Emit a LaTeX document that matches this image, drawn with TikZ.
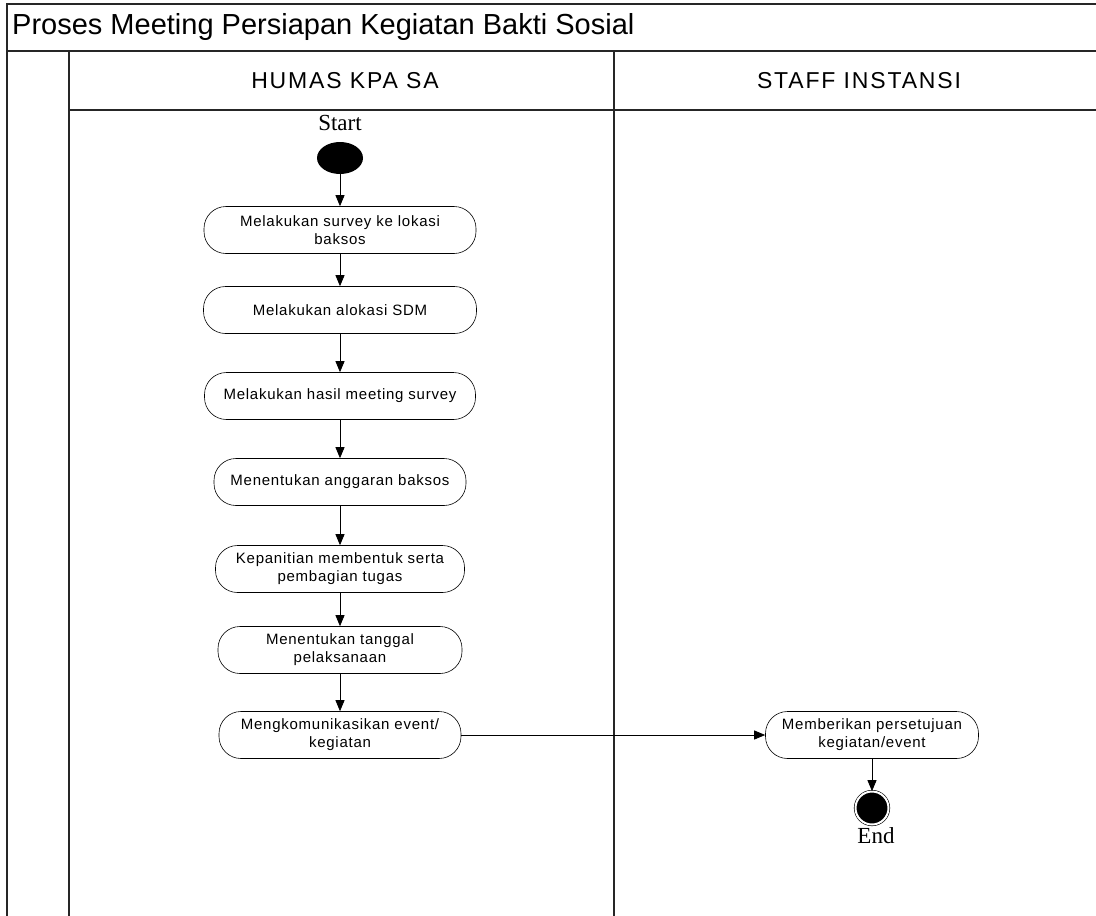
\documentclass[tikz,border=0pt]{standalone}
\usepackage{fontspec}
\usetikzlibrary{arrows.meta,shapes.geometric}
\setmainfont{Liberation Sans}
\newfontfamily\actfont[LetterSpace=5]{Liberation Sans}
\newfontfamily\lanefont[LetterSpace=8]{Liberation Sans}
\newfontfamily\markfont{Liberation Serif}

\begin{document}
\begin{tikzpicture}[x=1pt, y=-1pt,
  lane/.style={line width=1.2pt, draw=black!85},
  act/.style={draw, line width=0.6pt, rounded corners=22pt, minimum height=47pt, inner sep=2pt, align=center, font=\actfont\fontsize{15}{18}\selectfont},
  flow/.style={line width=0.8pt, -{Triangle[length=11pt,width=9pt]}}]
\useasboundingbox (0,0) rectangle (1096,916);
\draw[lane] (1096,4) -- (7,4) -- (7,916); % outer frame
\draw[lane] (7,51) -- (1096,51); % title line
\draw[lane] (69,51) -- (69,916); % left lane edge
\draw[lane] (69,110) -- (1096,110); % header line
\draw[lane] (614,51) -- (614,916); % lane divider
\node (title) [anchor=west, inner sep=0, font=\fontsize{29}{34}\selectfont] at (12,27) {Proses Meeting Persiapan Kegiatan Bakti Sosial};
\node (humas) [font=\lanefont\fontsize{23}{27}\selectfont] at (345,81) {HUMAS KPA SA};
\node (staff) [font=\lanefont\fontsize{23}{27}\selectfont] at (859,81) {STAFF INSTANSI};
\node (startlbl) [font=\markfont\fontsize{23}{27}\selectfont] at (340,123) {Start};
\node (start) [ellipse, fill, minimum width=46pt, minimum height=32pt, inner sep=0] at (340,158) {};
\node (n1) [act, minimum width=272pt] at (340,230) {Melakukan survey ke lokasi\\baksos};
\node (n2) [act, minimum width=273pt] at (340,310) {Melakukan alokasi SDM};
\node (n3) [act, minimum width=271pt] at (340,396) {Melakukan hasil meeting survey};
\node (n4) [act, minimum width=252pt] at (340,482) {Menentukan anggaran baksos};
\node (n5) [act, minimum width=249pt] at (340,569) {Kepanitian membentuk serta\\pembagian tugas};
\node (n6) [act, minimum width=244pt] at (340,650) {Menentukan tanggal\\pelaksanaan};
\node (n7) [act, minimum width=242pt] at (340,735) {Mengkomunikasikan event/\\kegiatan};
\node (n8) [act, minimum width=213pt] at (872,735) {Memberikan persetujuan\\kegiatan/event};
\node (end) [circle, fill, draw, line width=0.6pt, double=white, double distance=2pt, minimum size=33pt, inner sep=0] at (872,808) {};
\node (endlbl) [font=\markfont\fontsize{23}{27}\selectfont] at (876,836) {End};
\draw[flow] (start) -- (n1); % start
\draw[flow] (n1) -- (n2);
\draw[flow] (n2) -- (n3);
\draw[flow] (n3) -- (n4);
\draw[flow] (n4) -- (n5);
\draw[flow] (n5) -- (n6);
\draw[flow] (n6) -- (n7);
\draw[flow] (n7) -- (n8); % to staff
\draw[flow] (n8) -- (end); % end
\end{tikzpicture}
\end{document}
